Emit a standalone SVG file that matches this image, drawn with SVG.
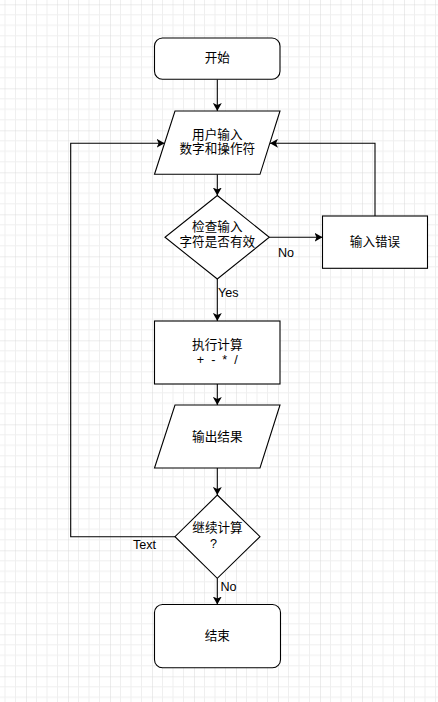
<svg xmlns="http://www.w3.org/2000/svg" width="438" height="702" viewBox="0 0 438 702">
  <style>
    .shape { fill: #ffffff; stroke: #000000; stroke-width: 1.1; }
    .edge { fill: none; stroke: #000000; stroke-width: 1.1; }
    .t { font-family: "Liberation Sans", "Noto Sans CJK SC", sans-serif; font-size: 12.6px; fill: #000000; }
    .c { text-anchor: middle; }
  </style>
  <defs>
    <pattern id="grid" patternUnits="userSpaceOnUse" x="26" y="4.3" width="42" height="42">
      <path d="M10.5,0 V42 M21,0 V42 M31.5,0 V42 M0,10.5 H42 M0,21 H42 M0,31.5 H42" stroke="#efefef" stroke-width="1" fill="none"/>
      <path d="M0,0 V42 M0,0 H42" stroke="#d9d9d9" stroke-width="1" fill="none"/>
    </pattern>
    <marker id="arrow" markerUnits="userSpaceOnUse" viewBox="0 0 8 9" markerWidth="8" markerHeight="9" refX="8" refY="4.5" orient="auto">
      <path d="M0,0 L8,4.5 L0,9 L2,4.5 Z" fill="#000000"/>
    </marker>
  </defs>
  <rect x="0" y="0" width="438" height="702" fill="#ffffff"/>
  <rect x="0" y="0" width="438" height="702" fill="url(#grid)"/>

  <g id="edges">
    <path class="edge" d="M217.3,79.5 V111" marker-end="url(#arrow)"/>
    <path class="edge" d="M217.3,174.3 V195.5" marker-end="url(#arrow)"/>
    <path class="edge" d="M217.3,279 V321" marker-end="url(#arrow)"/>
    <path class="edge" d="M269.3,237.3 H322.5" marker-end="url(#arrow)"/>
    <path class="edge" d="M375,216 V143.3 H270" marker-end="url(#arrow)"/>
    <path class="edge" d="M217.3,384 V405" marker-end="url(#arrow)"/>
    <path class="edge" d="M217.3,468 V495" marker-end="url(#arrow)"/>
    <path class="edge" d="M217.3,578.3 V604.5" marker-end="url(#arrow)"/>
    <path class="edge" d="M175,536.7 H70.7 V143.3 H164.6" marker-end="url(#arrow)"/>
    <text class="t" x="278" y="257">No</text>
    <text class="t" x="218" y="297">Yes</text>
    <text class="t" x="133" y="548.5">Text</text>
    <text class="t" x="220.5" y="591">No</text>
  </g>

  <g id="start">
    <rect class="shape" x="154.5" y="38" width="125.5" height="41.3" rx="8" ry="8"/>
    <text class="t c" x="217.3" y="62">开始</text>
  </g>

  <g id="input">
    <polygon class="shape" points="175,111 280,111 260,174.3 154.5,174.3"/>
    <text class="t c" x="217.3" y="138.5">用户输入</text>
    <text class="t c" x="217.3" y="152.5">数字和操作符</text>
  </g>

  <g id="check">
    <polygon class="shape" points="217.3,195.5 269.3,237.3 217.3,279 165,237.3"/>
    <text class="t c" x="217.3" y="231">检查输入</text>
    <text class="t c" x="217.3" y="245.5">字符是否有效</text>
  </g>

  <g id="error">
    <rect class="shape" x="322.5" y="216" width="105" height="52.3"/>
    <text class="t c" x="375" y="246">输入错误</text>
  </g>

  <g id="compute">
    <rect class="shape" x="154.5" y="321" width="125.5" height="63"/>
    <text class="t c" x="217.3" y="348.5">执行计算</text>
    <text class="t c" x="217.3" y="363.5" word-spacing="3.5">+ - * /</text>
  </g>

  <g id="output">
    <polygon class="shape" points="175,405 280,405 260,468 154.5,468"/>
    <text class="t c" x="217.3" y="440.5">输出结果</text>
  </g>

  <g id="continue">
    <polygon class="shape" points="217.3,495 260,536.7 217.3,578.3 175,536.7"/>
    <text class="t c" x="217.5" y="532">继续计算</text>
    <text class="t c" x="213.5" y="548">?</text>
  </g>

  <g id="end">
    <rect class="shape" x="154.5" y="604.5" width="126" height="63.2" rx="8" ry="8"/>
    <text class="t c" x="217.3" y="639.5">结束</text>
  </g>
</svg>
